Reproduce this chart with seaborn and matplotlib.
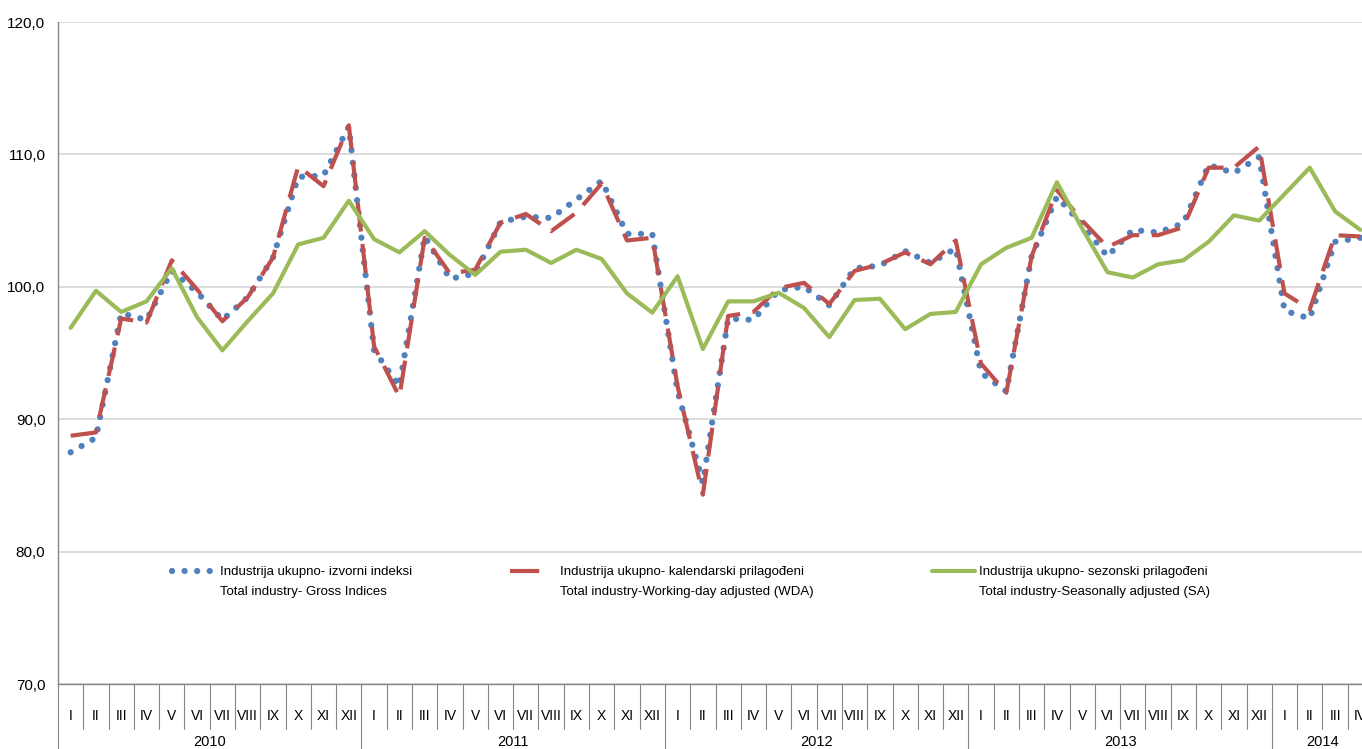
import numpy as np
import pandas as pd
import matplotlib
matplotlib.use("Agg")
import matplotlib.pyplot as plt
from matplotlib.ticker import FuncFormatter
from matplotlib.transforms import blended_transform_factory
import seaborn as sns

years = ["2010", "2011", "2012", "2013", "2014"]
months = ["I", "II", "III", "IV", "V", "VI", "VII", "VIII", "IX", "X", "XI", "XII"]
month_labels = months * 4 + months[:4]

gross = [87.5, 88.6, 98.0, 97.5, 101.2, 99.6, 97.5, 99.2, 102.2, 108.3, 108.4, 112.1,
         95.2, 92.5, 103.8, 100.6, 101.0, 104.9, 105.3, 105.2, 106.6, 108.0, 104.0, 104.0,
         92.1, 85.2, 97.6, 97.5, 99.75, 100.0, 98.6, 101.4, 101.6, 102.7, 101.8, 102.9,
         93.5, 92.1, 102.3, 106.8, 104.7, 102.3, 104.3, 104.1, 104.8, 109.2, 108.6, 109.8,
         98.2, 97.6, 103.4, 103.7]
wda = [88.75, 89.0, 97.6, 97.3, 102.0, 99.8, 97.4, 99.2, 102.2, 109.1, 107.6, 112.2,
       95.5, 91.7, 103.7, 101.0, 101.3, 104.85, 105.5, 104.2, 105.6, 107.8, 103.5, 103.7,
       92.5, 84.3, 97.8, 98.1, 99.9, 100.3, 98.7, 101.2, 101.7, 102.6, 101.7, 103.5,
       94.2, 92.0, 102.3, 107.3, 105.0, 103.0, 103.9, 103.9, 104.5, 109.0, 109.0, 110.6,
       99.5, 98.3, 103.9, 103.8]
sa = [96.9, 99.7, 98.1, 98.9, 101.4, 97.7, 95.2, 97.4, 99.5, 103.2, 103.7, 106.5,
      103.6, 102.6, 104.2, 102.4, 100.9, 102.65, 102.8, 101.8, 102.8, 102.1, 99.5, 98.05,
      100.8, 95.3, 98.9, 98.9, 99.55, 98.4, 96.2, 99.0, 99.1, 96.8, 97.95, 98.1,
      101.7, 102.95, 103.7, 107.9, 104.4, 101.1, 100.7, 101.7, 102.0, 103.4, 105.4, 105.0,
      107.0, 109.0, 105.7, 104.3]

labels_hr = ["Industrija ukupno- izvorni indeksi",
             "Industrija ukupno- kalendarski prilagođeni",
             "Industrija ukupno- sezonski prilagođeni"]
labels_en = ["Total industry- Gross Indices",
             "Total industry-Working-day adjusted (WDA)",
             "Total industry-Seasonally adjusted (SA)"]

df = pd.DataFrame({"idx": np.arange(len(gross)), "gross": gross, "wda": wda, "sa": sa})

sns.set_style("white")
plt.rcParams["font.family"] = ["Liberation Sans", "DejaVu Sans"]
plt.rcParams["text.color"] = "black"
plt.rcParams["xtick.color"] = "black"
plt.rcParams["ytick.color"] = "black"

W, H = 1362, 749
fig = plt.figure(figsize=(W / 100, H / 100), dpi=100)
ax = fig.add_axes([58 / W, 65 / H, 1315 / W, 662 / H])

sns.lineplot(data=df, x="idx", y="gross", ax=ax, color="#4F81BD", lw=4.5,
             linestyle=(0, (0.01, 2.0)), dash_capstyle="round", label=labels_hr[0])
sns.lineplot(data=df, x="idx", y="wda", ax=ax, color="#C0504D", lw=3.0,
             linestyle=(0, (7, 3)), dash_capstyle="butt", label=labels_hr[1])
sns.lineplot(data=df, x="idx", y="sa", ax=ax, color="#9BBB59", lw=3.0,
             label=labels_hr[2])

ax.set_xlim(-0.5, 51.5)
ax.set_ylim(70, 120)
ax.set_yticks([70, 80, 90, 100, 110, 120])
ax.yaxis.set_major_formatter(FuncFormatter(lambda v, _: f"{v:.1f}".replace(".", ",")))
ax.yaxis.grid(True, color="#D9D9D9", lw=1.3)
ax.set_axisbelow(True)
ax.set_xlabel("")
ax.set_ylabel("")

for s in ["top", "right"]:
    ax.spines[s].set_visible(False)
for s in ["left", "bottom"]:
    ax.spines[s].set_color("#868686")
    ax.spines[s].set_linewidth(1.0)

ax.tick_params(axis="y", length=4, width=1, color="#868686", labelcolor="black",
               pad=5, labelsize=11)
ax.set_xticks(range(len(month_labels)))
ax.set_xticklabels(month_labels)
ax.tick_params(axis="x", length=0, pad=18, labelsize=10, labelcolor="black")

trans = blended_transform_factory(ax.transData, ax.transAxes)
bottom = -65 / 662
for b in np.arange(0.5, len(month_labels) - 0.5):
    if (b + 0.5) % 12 == 0:
        continue
    ax.plot([b, b], [0, -0.068], transform=trans, color="#868686", lw=0.8, clip_on=False)
for k in range(len(years)):
    b = 12 * k - 0.5
    ax.plot([b, b], [0, bottom], transform=trans, color="#868686", lw=0.8, clip_on=False)
    n = min(12, len(month_labels) - 12 * k)
    ax.text(12 * k + (n - 1) / 2, -0.088, years[k], transform=trans,
            ha="center", va="center", fontsize=10.5)

# legend: one entry per block, second (English) line written underneath
handles, _ = ax.get_legend_handles_labels()
ax.get_legend().remove()
fs = 9.5
fs_px = fs * 100 / 72
blocks = [(172, 43, 220), (510, 35, 560), (932, 43, 979)]
for h, lab1, lab2, (hx, hw, tx) in zip(handles, labels_hr, labels_en, blocks):
    fig.legend([h], [lab1], loc="center left", bbox_to_anchor=(hx / W, 1 - 572 / H),
               frameon=False, fontsize=fs, handlelength=hw / fs_px,
               handletextpad=(tx - hx - hw) / fs_px, borderpad=0, borderaxespad=0)
    fig.text(tx / W, 1 - 592 / H, lab2, ha="left", va="center", fontsize=fs)

fig.savefig("out.png", dpi=100)
